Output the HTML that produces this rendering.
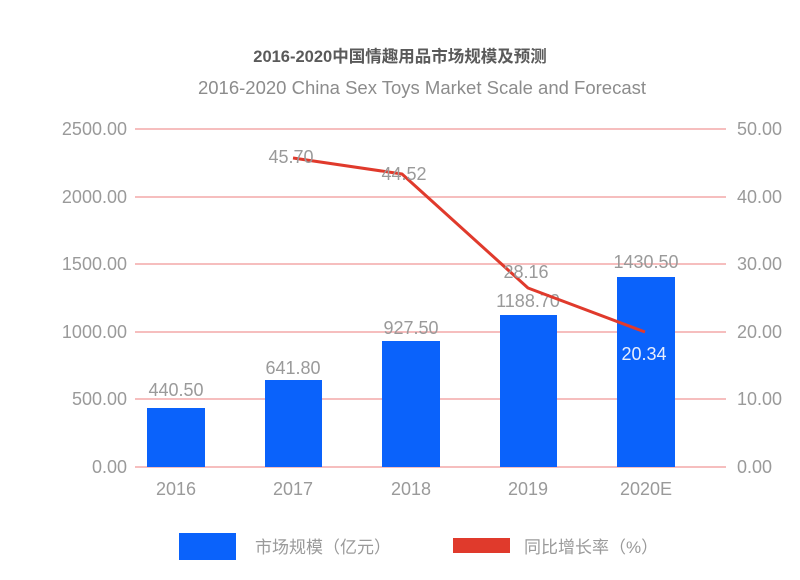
<!DOCTYPE html>
<html><head><meta charset="utf-8"><style>
html,body{margin:0;padding:0;background:#fff;width:800px;height:580px;overflow:hidden}
svg text{font-family:"Liberation Sans","Noto Sans CJK SC",sans-serif}
</style></head><body>
<svg width="800" height="580" xmlns="http://www.w3.org/2000/svg">
<text x="400" y="62" text-anchor="middle" font-size="16.5" font-weight="bold" fill="#5a5a5a">2016-2020中国情趣用品市场规模及预测</text>
<text x="422" y="94" text-anchor="middle" font-size="18.5" fill="#8c8c8c">2016-2020 China Sex Toys Market Scale and Forecast</text>
<g stroke="#f4a9a8" stroke-width="1.5">
<line x1="135" y1="129" x2="726" y2="129"/>
<line x1="135" y1="197" x2="726" y2="197"/>
<line x1="135" y1="264" x2="726" y2="264"/>
<line x1="135" y1="332" x2="726" y2="332"/>
<line x1="135" y1="399" x2="726" y2="399"/>
<line x1="135" y1="467" x2="726" y2="467"/>
</g>
<g font-size="18" fill="#9a9a9a" text-anchor="end">
<text x="127" y="135">2500.00</text><text x="127" y="203">2000.00</text><text x="127" y="270">1500.00</text>
<text x="127" y="338">1000.00</text><text x="127" y="405">500.00</text><text x="127" y="473">0.00</text>
</g>
<g font-size="18" fill="#9a9a9a">
<text x="737" y="135">50.00</text><text x="737" y="203">40.00</text><text x="737" y="270">30.00</text>
<text x="737" y="338">20.00</text><text x="737" y="405">10.00</text><text x="737" y="473">0.00</text>
</g>
<g fill="#0a62fb">
<rect x="147" y="408" width="58" height="59"/>
<rect x="265" y="380" width="57" height="87"/>
<rect x="382" y="341" width="58" height="126"/>
<rect x="500" y="315" width="57" height="152"/>
<rect x="617" y="277" width="58" height="190"/>
</g>
<g font-size="18" fill="#9a9a9a" text-anchor="middle">
<text x="176" y="495">2016</text><text x="293" y="495">2017</text><text x="411" y="495">2018</text>
<text x="528" y="495">2019</text><text x="646" y="495">2020E</text>
<text x="176" y="396">440.50</text><text x="293" y="374">641.80</text><text x="411" y="334">927.50</text>
<text x="528" y="307">1188.70</text><text x="646" y="268">1430.50</text>
</g>
<polyline points="293,158 402,174 528,288 645,332" fill="none" stroke="#e03a2c" stroke-width="3" stroke-linejoin="round"/>
<g font-size="18" fill="#9a9a9a" text-anchor="middle">
<text x="291" y="163">45.70</text><text x="404" y="180">44.52</text><text x="526" y="278">28.16</text>
</g>
<text x="644" y="360" font-size="18" fill="#e8eefc" text-anchor="middle">20.34</text>
<rect x="179" y="533" width="57" height="27" fill="#0a62fb"/>
<text x="255" y="553" font-size="17" fill="#9a9a9a">市场规模（亿元）</text>
<rect x="453" y="538" width="57" height="15" fill="#e03a2c"/>
<text x="524" y="553" font-size="17" fill="#9a9a9a">同比增长率（%）</text>
</svg>
</body></html>
